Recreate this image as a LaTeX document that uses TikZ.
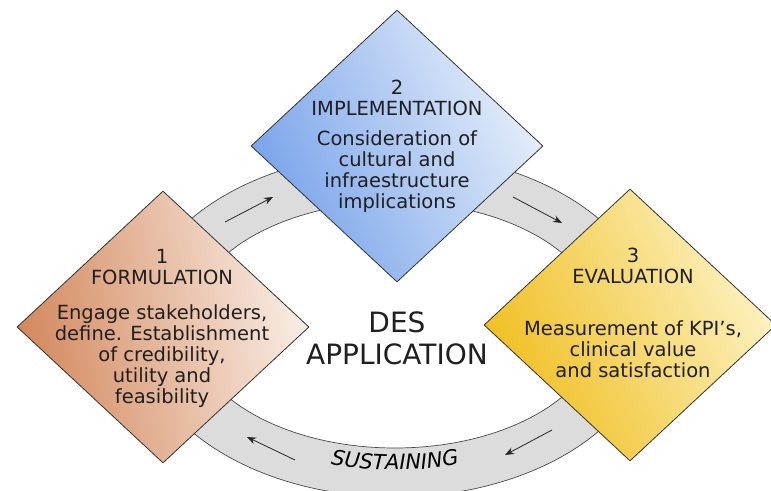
\documentclass[tikz,border=0pt]{standalone}
\usepackage{fontspec}
\setmainfont{DejaVu Sans}
\newfontfamily\ringfont{DejaVu Sans}[LetterSpace=6]
\usetikzlibrary{shapes.geometric,arrows.meta,decorations.text}

\definecolor{formdark}{HTML}{D3885C}
\definecolor{formlight}{HTML}{FAEEE6}
\definecolor{impldark}{HTML}{76A2EA}
\definecolor{impllight}{HTML}{E8F0FB}
\definecolor{evaldark}{HTML}{F0BE1E}
\definecolor{evallight}{HTML}{FDF3C6}
\definecolor{ringgray}{HTML}{DCDCDC}
\definecolor{ringline}{HTML}{4A4A4A}

\tikzset{
  phase/.style={shape=diamond, draw=black!80, line width=0.8pt,
    minimum width=292pt, minimum height=272pt, inner sep=0pt},
  phasetext/.style={align=center, text=black!88,
    font=\fontsize{19.5}{21}\selectfont},
  flow/.style={-{Stealth[length=9pt,width=7pt]}, line width=0.8pt, black!85}
}

\begin{document}
\begin{tikzpicture}[x=1pt,y=1pt]
\clip (0,0) rectangle (771,490);
\fill[white] (0,0) rectangle (771,490);

% the ring
\coordinate (ctr) at (395,165);
\fill[ringgray, even odd rule] (ctr) ellipse [x radius=259, y radius=172]
  (ctr) ellipse [x radius=206, y radius=123];
\draw[ringline, line width=0.7pt] (ctr) ellipse [x radius=259, y radius=172];
\draw[ringline, line width=0.7pt] (ctr) ellipse [x radius=206, y radius=123];

\path[decorate, decoration={text along path, text align=center,
    text={|\ringfont\fontsize{21}{21}\selectfont\itshape|SUSTAINING}}]
  (ctr) ++(240:232 and 145) arc [start angle=240, end angle=300,
    x radius=232, y radius=145];

% flow arrows on the ring
\coordinate (up1a) at (225,268);
\coordinate (up1b) at (273,293);
\coordinate (up2a) at (513,293);
\coordinate (up2b) at (562,267);
\coordinate (lo1a) at (552,60);
\coordinate (lo1b) at (505,35);
\coordinate (lo2a) at (295,30);
\coordinate (lo2b) at (247,53);
\draw[flow] (up1a) -- (up1b);
\draw[flow] (up2a) -- (up2b);
\draw[flow] (lo1a) -- (lo1b);
\draw[flow] (lo2a) -- (lo2b);

% the three phases
\node[phase, top color=formlight, bottom color=formdark, shading angle=-80]
  (form) at (163,163) {};
\node[phase, top color=impllight, bottom color=impldark, shading angle=-65]
  (impl) at (397,344) {};
\node[phase, top color=evallight, bottom color=evaldark, shading angle=-65]
  (eval) at (630,165) {};

\node[phasetext] (formtext) at (162,162)
  {1\\FORMULATION\\[14pt]Engage stakeholders,\\define. Establishment\\of credibility,\\utility and\\feasibility};
\node[phasetext] (impltext) at (397,344)
  {2\\IMPLEMENTATION\\[9pt]Consideration of\\cultural and\\infraestructure\\implications};
\node[phasetext] (evaltext) at (633,177)
  {3\\EVALUATION\\[31pt]Measurement of KPI's,\\clinical value\\and satisfaction};

\node[align=center, text=black!88, font=\fontsize{28}{32}\selectfont]
  (des) at (397,152) {DES\\APPLICATION};

\end{tikzpicture}
\end{document}
